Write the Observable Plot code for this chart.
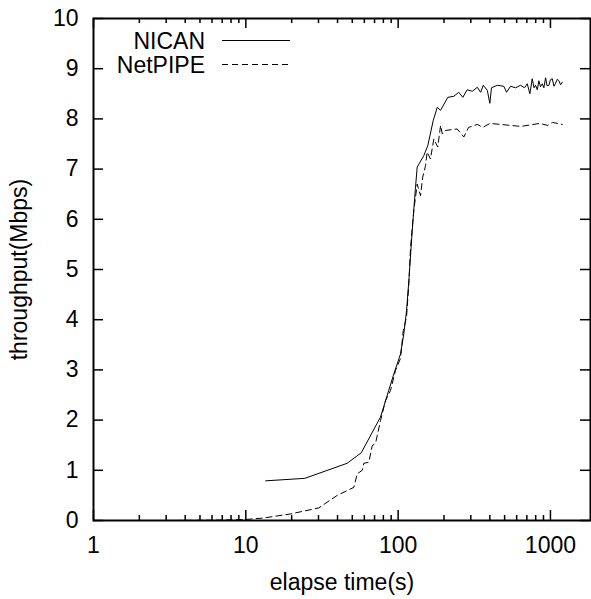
<!DOCTYPE html>
<html>
<head>
<meta charset="utf-8">
<script src="https://cdn.jsdelivr.net/npm/d3@7"></script>
<script src="https://cdn.jsdelivr.net/npm/@observablehq/plot@0.6"></script>
<style>
  html, body { margin: 0; padding: 0; background: #fff; }
  #chart svg { display: block; }
</style>
</head>
<body>
<div id="chart"></div>
<script>
// ---- data ----
const seriesNames = ["NICAN", "NetPIPE"];

const nicanTime = [13.5, 24.4, 46.3, 57.3, 74.7, 76.6, 93.7, 103.7, 109, 113.6, 117.6, 123.8, 130, 133.4, 147.5, 156.6, 170, 180.6, 189.8, 212, 232, 250, 266, 284, 307, 331, 348, 362, 385, 400, 410, 448, 494, 515, 547, 590, 637, 676, 704, 733, 759, 780, 798, 820, 839, 860, 884, 905, 929, 950, 977, 1000, 1028, 1055, 1080, 1110, 1136, 1165, 1195];
const nicanThroughput = [0.79, 0.84, 1.14, 1.35, 2.0, 2.06, 2.92, 3.32, 3.72, 4.18, 4.78, 5.78, 6.64, 7.04, 7.27, 7.47, 7.97, 8.23, 8.17, 8.43, 8.45, 8.53, 8.43, 8.58, 8.55, 8.63, 8.53, 8.67, 8.57, 8.31, 8.62, 8.67, 8.65, 8.53, 8.65, 8.62, 8.67, 8.62, 8.70, 8.50, 8.80, 8.62, 8.67, 8.58, 8.76, 8.64, 8.70, 8.62, 8.82, 8.66, 8.67, 8.78, 8.80, 8.65, 8.71, 8.79, 8.76, 8.68, 8.73];

const netpipeTime = [3, 5, 7, 9.96, 13.1, 19.6, 30.1, 39.8, 51.2, 53.9, 58.1, 59.5, 64.2, 67.6, 71.1, 76.6, 82.7, 89.1, 96.1, 103.7, 108, 113.5, 117.6, 120.6, 126.8, 133.4, 140.3, 145, 151.4, 155, 163, 171.5, 182, 190, 195, 205, 244, 270, 290, 331, 360, 400, 470, 640, 850, 960, 1030, 1195];
const netpipeThroughput = [0.0, 0.005, 0.01, 0.02, 0.05, 0.13, 0.25, 0.5, 0.66, 0.93, 1.0, 1.14, 1.16, 1.49, 1.54, 1.99, 2.39, 2.59, 2.99, 3.23, 3.78, 4.05, 4.72, 5.44, 6.18, 6.7, 6.47, 6.84, 7.07, 7.34, 7.2, 7.6, 7.44, 7.87, 7.7, 7.77, 7.8, 7.64, 7.83, 7.89, 7.83, 7.91, 7.89, 7.85, 7.91, 7.87, 7.93, 7.89];

const xMajorTicks = [1, 10, 100, 1000];
const xMinorTicks = [2, 3, 4, 5, 6, 7, 8, 9, 20, 30, 40, 50, 60, 70, 80, 90, 200, 300, 400, 500, 600, 700, 800, 900];
const yTicks = [0, 1, 2, 3, 4, 5, 6, 7, 8, 9, 10];
const xLabel = "elapse time(s)";
const yLabel = "throughput(Mbps)";

// ---- build ----
const nican = nicanTime.map((t, i) => ({ t, v: nicanThroughput[i] }));
const netpipe = netpipeTime.map((t, i) => ({ t, v: netpipeThroughput[i] }));

const W = 591, H = 599;
const mL = 93, mR = 1, mT = 18, mB = 79;
const innerW = W - mL - mR, innerH = H - mT - mB;
const font = "'Liberation Sans', Arial, Helvetica, sans-serif";
const dash = "6,4";

const chart = Plot.plot({
  width: W, height: H,
  marginLeft: mL, marginRight: mR, marginTop: mT, marginBottom: mB,
  style: { fontFamily: font, fontSize: "23px", color: "black", background: "white" },
  x: { type: "log", domain: [1, 1832] },
  y: { domain: [0, 10] },
  marks: [
    Plot.line(netpipe, { x: "t", y: "v", stroke: "black", strokeWidth: 1, strokeDasharray: dash }),
    Plot.line(nican, { x: "t", y: "v", stroke: "black", strokeWidth: 1 }),
    // inward ticks (gnuplot style, mirrored)
    Plot.ruleX(xMajorTicks, { x: d => d, insetTop: innerH - 10, stroke: "black", strokeWidth: 1.5 }),
    Plot.ruleX(xMajorTicks, { x: d => d, insetBottom: innerH - 10, stroke: "black", strokeWidth: 1.5 }),
    Plot.ruleX(xMinorTicks, { x: d => d, insetTop: innerH - 5, stroke: "black", strokeWidth: 1.5 }),
    Plot.ruleX(xMinorTicks, { x: d => d, insetBottom: innerH - 5, stroke: "black", strokeWidth: 1.5 }),
    Plot.ruleY(yTicks, { y: d => d, insetRight: innerW - 10, stroke: "black", strokeWidth: 1.5 }),
    Plot.ruleY(yTicks, { y: d => d, insetLeft: innerW - 10, stroke: "black", strokeWidth: 1.5 }),
    Plot.axisX({ ticks: xMajorTicks, tickSize: 0, tickPadding: 16, tickFormat: d => String(d), label: null }),
    Plot.axisY({ ticks: yTicks, tickSize: 0, tickPadding: 15, tickFormat: d => String(d), label: null }),
    Plot.text([xLabel], { frameAnchor: "bottom", dy: 62, lineAnchor: "middle", textAnchor: "middle" }),
    Plot.text([yLabel], { frameAnchor: "left", dx: -74, rotate: -90, lineAnchor: "middle", textAnchor: "middle" }),
    Plot.frame({ stroke: "black", strokeWidth: 2 })
  ]
});

// legend (gnuplot-style key, top-left inside the frame)
const svg = d3.select(chart);
const key = svg.append("g").attr("font-family", font).attr("font-size", 23);
const keyRows = [
  { name: seriesNames[0], y: 40.5, dash: null },
  { name: seriesNames[1], y: 64.5, dash: dash }
];
keyRows.forEach(r => {
  key.append("text").attr("x", 205).attr("y", r.y).attr("text-anchor", "end")
    .attr("dominant-baseline", "central").attr("fill", "black").text(r.name);
  const ln = key.append("line").attr("x1", 222).attr("x2", 290).attr("y1", r.y).attr("y2", r.y)
    .attr("stroke", "black").attr("stroke-width", 1);
  if (r.dash) ln.attr("stroke-dasharray", r.dash);
});

document.getElementById("chart").appendChild(chart);
</script>
</body>
</html>
